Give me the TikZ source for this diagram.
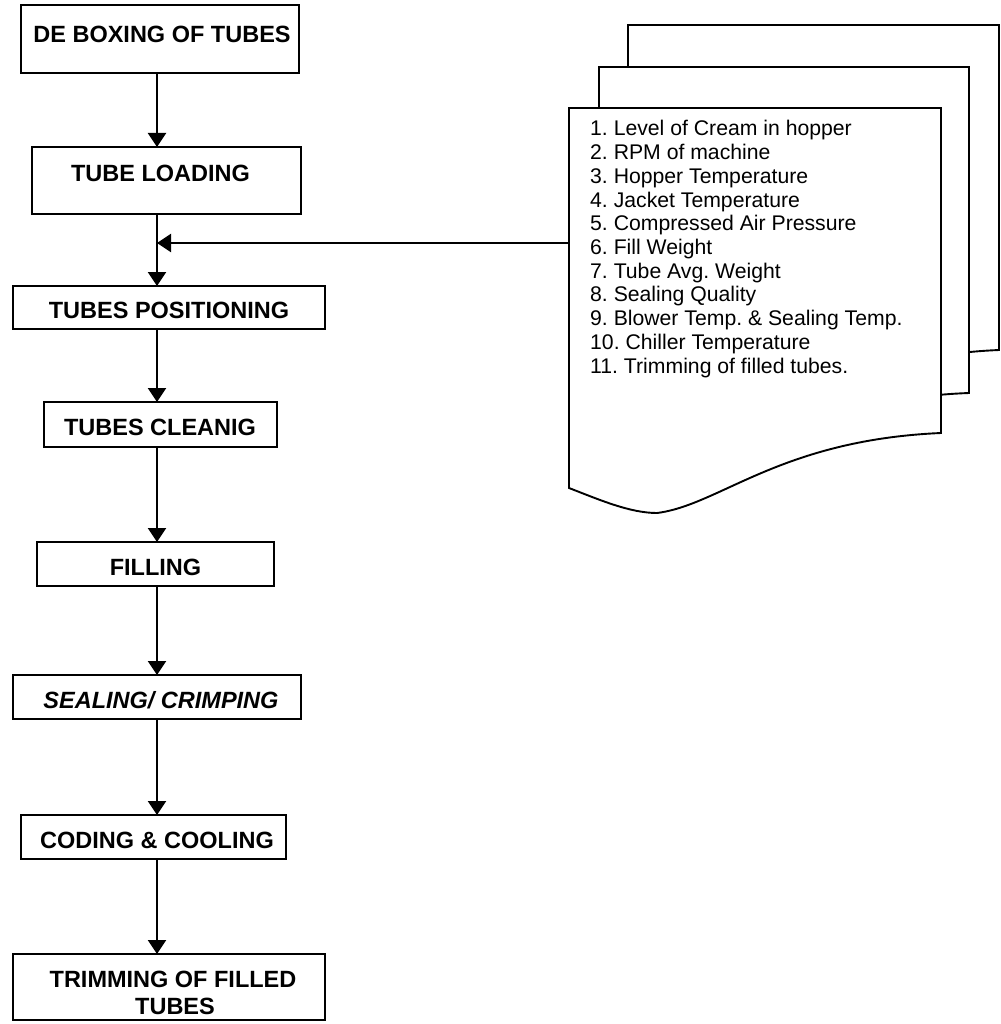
\documentclass[tikz,border=0pt]{standalone}
\usepackage{fontspec}
\setmainfont{Liberation Sans}
\usetikzlibrary{arrows.meta}
\frenchspacing
\begin{document}
\begin{tikzpicture}[x=1pt,y=-1pt,
 box/.style={draw,line width=2.1pt,inner sep=0pt,outer sep=0pt},
 lbl/.style={anchor=base,inner sep=0pt,font=\fontsize{23.5}{26}\selectfont\bfseries},
 arr/.style={line width=2.2pt,-{Triangle[length=14pt,width=18pt]}},
 page/.style={draw,line width=1.9pt,fill=white,line join=miter},
 item/.style={anchor=base west,inner sep=0pt,font=\fontsize{21.2}{24}\selectfont}]
\useasboundingbox (0,0) rectangle (1000,1024);

% process boxes
\node[box,minimum width=278pt,minimum height=68pt] (b1) at (160,39) {};
\node[box,minimum width=269pt,minimum height=67pt] (b2) at (166.5,180.5) {};
\node[box,minimum width=312pt,minimum height=43pt] (b3) at (169,307.5) {};
\node[box,minimum width=233pt,minimum height=45pt] (b4) at (160.5,424.5) {};
\node[box,minimum width=237pt,minimum height=44pt] (b5) at (155.5,564) {};
\node[box,minimum width=288pt,minimum height=44pt] (b6) at (157,697) {};
\node[box,minimum width=265pt,minimum height=44pt] (b7) at (153.5,837) {};
\node[box,minimum width=312pt,minimum height=66pt] (b8) at (169,987) {};

% labels
\node[lbl] (t1) at (162,42.7) {DE BOXING OF TUBES};
\node[lbl] (t2) at (160.5,181.7) {TUBE LOADING};
\node[lbl] (t3) at (169,318) {TUBES POSITIONING};
\node[lbl] (t4) at (160,435) {TUBES CLEANIG};
\node[lbl] (t5) at (155.5,575) {FILLING};
\node[lbl,font=\fontsize{23.5}{26}\selectfont\bfseries\itshape] (t6) at (161,708.5) {SEALING/ CRIMPING};
\node[lbl] (t7) at (157,848) {CODING \& COOLING};
\node[lbl] (t8) at (173,987) {TRIMMING OF FILLED};
\node[lbl] (t9) at (175,1014) {TUBES};

% spine
\coordinate (sp) at (157,0);
\coordinate (j) at (157,243);
\coordinate (docin) at (569,243);

\draw[arr] (b1.south -| sp) -- (b2.north -| sp);
\draw[arr] (b2.south -| sp) -- (b3.north -| sp);
\draw[arr] (b3.south -| sp) -- (b4.north -| sp);
\draw[arr] (b4.south -| sp) -- (b5.north -| sp);
\draw[arr] (b5.south -| sp) -- (b6.north -| sp);
\draw[arr] (b6.south -| sp) -- (b7.north -| sp);
\draw[arr] (b7.south -| sp) -- (b8.north -| sp);
\draw[arr] (docin) -- (j);

% multi-document shape
\begin{scope}[shift={(628,25)}]
\draw[page] (0,0) -- (371,0) -- (371,325) .. controls (211,332) and (151,397) .. (88,405) .. controls (61,405) and (31,392) .. (0,380) -- cycle;
\end{scope}
\begin{scope}[shift={(599,67)}]
\draw[page] (0,0) -- (370,0) -- (370,326) .. controls (211,332) and (151,397) .. (88,405) .. controls (61,405) and (31,392) .. (0,380) -- cycle;
\end{scope}
\begin{scope}[shift={(569,108)}]
\draw[page] (0,0) -- (372,0) -- (372,325) .. controls (211,332) and (151,397) .. (88,405) .. controls (61,405) and (31,392) .. (0,380) -- cycle;
\end{scope}

\foreach \t [count=\i] in {1. Level of Cream in hopper,2. RPM of machine,3. Hopper Temperature,4. Jacket Temperature,5. Compressed Air Pressure,6. Fill Weight,7. Tube Avg. Weight,8. Sealing Quality,9. Blower Temp. \& Sealing Temp.,10. Chiller Temperature,11. Trimming of filled tubes.}
  \node[item] (l\i) at (590,{136+23.7*(\i-1)}) {\t};
\end{tikzpicture}
\end{document}
